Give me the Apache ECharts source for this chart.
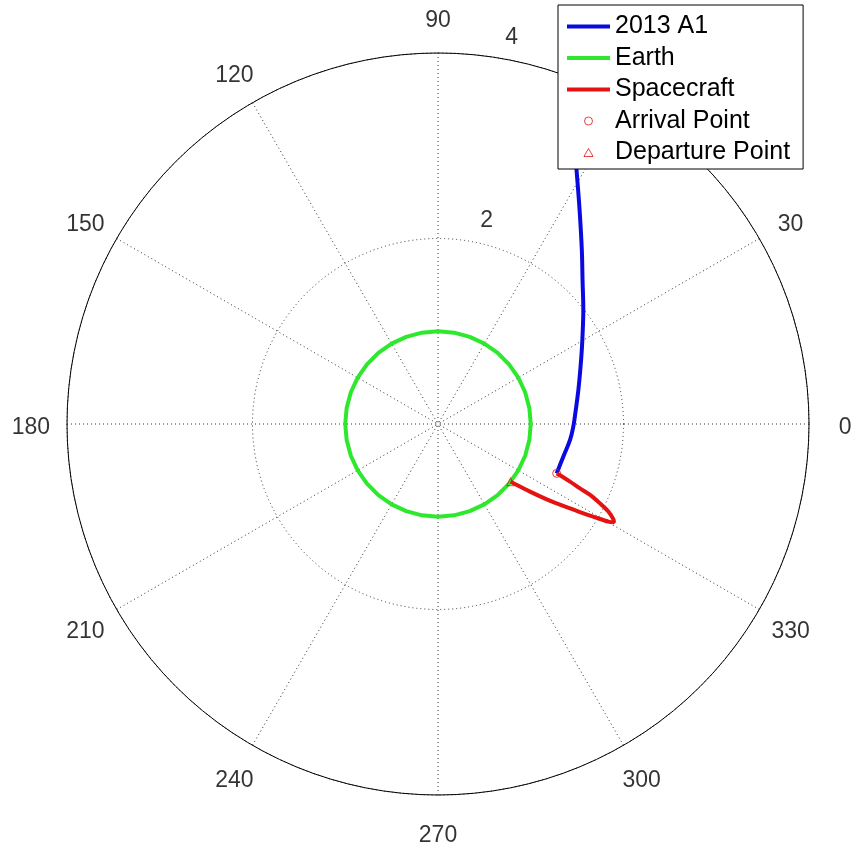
<!DOCTYPE html>
<html>
<head>
<meta charset="utf-8">
<script src="https://cdn.jsdelivr.net/npm/echarts@6/dist/echarts.min.js"></script>
<style>
html,body{margin:0;padding:0;background:#fff;}
#chart{width:852px;height:845px;}
</style>
</head>
<body>
<div id="chart"></div>
<script>
// ---- data (polar: theta in degrees, r in AU) ----
const angleTickValues = [0, 30, 60, 90, 120, 150, 180, 210, 240, 270, 300, 330];
const angleTickLabels = ['0','30','60','90','120','150','180','210','240','270','300','330'];
const radiusTickValues = [2, 4];
const radiusTickLabels = ['2', '4'];

const cometTheta = [68.6, 65.3, 61.4, 56.5, 50.4, 44.9, 38.1, 33.0, 27.2, 20.8, 13.6, 5.8, -1.1, -6.9, -14.6, -22.6];
const cometR     = [3.868, 3.488, 3.12, 2.766, 2.433, 2.2, 1.991, 1.861, 1.743, 1.641, 1.557, 1.493, 1.459, 1.434, 1.396, 1.386];

const earthTheta = [0,10,20,30,40,50,60,70,80,90,100,110,120,130,140,150,160,170,180,
                    190,200,210,220,230,240,250,260,270,280,290,300,310,320,330,340,350,360];
const earthR     = [1,1,1,1,1,1,1,1,1,1,1,1,1,1,1,1,1,1,1,
                    1,1,1,1,1,1,1,1,1,1,1,1,1,1,1,1,1,1];

const craftTheta = [-38.5, -36.3, -34.7, -33.2, -31.8, -30.6, -29.8, -29.2, -28.5, -27.2, -26.1, -25.0, -24.4, -23.6, -22.8, -22.6];
const craftR     = [1.0, 1.231, 1.426, 1.614, 1.801, 1.987, 2.117, 2.174, 2.151, 2.065, 1.945, 1.809, 1.681, 1.553, 1.427, 1.386];

const arrivalPoint = {theta: -22.6, r: 1.386};
const departurePoint = {theta: -38.5, r: 1.0};

const seriesNames = ['2013 A1', 'Earth', 'Spacecraft', 'Arrival Point', 'Departure Point'];

// ---- layout / style ----
const angleLabelRadius = 4.39;
const radiusLabelPlacement = [{r: 2.296, a: 76.8}, {r: 4.28, a: 79.3}];
const FONT = "'Liberation Sans', Arial, Helvetica, sans-serif";
const BLUE = '#0a0ae0', GREEN = '#2ee82e', RED = '#e51212';
const LINE_ICON = 'path://M0,0L43,0L43,4L0,4Z';
const TRI_ICON = 'path://M4,0L8,7L0,7Z';

const pairs = (rs, ts) => rs.map((r, i) => [r, ts[i]]);
const textSeries = (name, points, labels, fontSize) => ({
  name, type: 'scatter', coordinateSystem: 'polar', symbolSize: 1, silent: true, clip: false,
  itemStyle: {color: 'rgba(0,0,0,0)'},
  label: {show: true, position: 'inside', offset: [0, 4], fontSize, color: '#000', fontFamily: FONT,
          formatter: p => labels[p.dataIndex]},
  data: points, z: 2
});

const chart = echarts.init(document.getElementById('chart'), null, {renderer: 'canvas'});
chart.setOption({
  backgroundColor: '#ffffff',
  animation: false,
  textStyle: {fontFamily: FONT},
  polar: {center: [438, 424], radius: 371},
  angleAxis: {
    type: 'value', min: 0, max: 360, interval: 30, startAngle: 0, clockwise: false,
    axisLine: {show: true, lineStyle: {color: '#000', width: 1}},
    axisTick: {show: false},
    axisLabel: {show: false},
    splitLine: {show: true, lineStyle: {color: '#333', width: 1, type: [1, 3]}}
  },
  radiusAxis: {
    type: 'value', min: 0, max: 4, interval: 2,
    axisLine: {show: false}, axisTick: {show: false}, axisLabel: {show: false},
    splitLine: {show: true, lineStyle: {color: '#333', width: 1, type: [1, 3]}}
  },
  legend: {
    orient: 'vertical', left: 558, top: 5,
    itemWidth: 43, itemHeight: 8, itemGap: 6.5,
    padding: [9, 13, 4, 9],
    symbolKeepAspect: true,
    backgroundColor: '#fff', borderColor: '#000', borderWidth: 1,
    selectedMode: false,
    textStyle: {fontSize: 25, color: '#000', fontFamily: FONT, lineHeight: 24},
    data: [
      {name: seriesNames[0], icon: LINE_ICON, itemStyle: {color: BLUE, borderWidth: 0}},
      {name: seriesNames[1], icon: LINE_ICON, itemStyle: {color: GREEN, borderWidth: 0}},
      {name: seriesNames[2], icon: LINE_ICON, itemStyle: {color: RED, borderWidth: 0}},
      {name: seriesNames[3], icon: 'circle', itemStyle: {color: 'rgba(255,255,255,0)', borderColor: RED, borderWidth: 1}},
      {name: seriesNames[4], icon: TRI_ICON, itemStyle: {color: 'rgba(255,255,255,0)', borderColor: RED, borderWidth: 1}}
    ]
  },
  series: [
    {name: seriesNames[0], type: 'line', coordinateSystem: 'polar', symbol: 'none', smooth: 0.4,
     lineStyle: {color: BLUE, width: 4}, itemStyle: {color: BLUE}, data: pairs(cometR, cometTheta), z: 3},
    {name: seriesNames[1], type: 'line', coordinateSystem: 'polar', symbol: 'none',
     lineStyle: {color: GREEN, width: 4}, itemStyle: {color: GREEN}, data: pairs(earthR, earthTheta), z: 3},
    {name: seriesNames[2], type: 'line', coordinateSystem: 'polar', symbol: 'none', smooth: 0.3,
     lineStyle: {color: RED, width: 4}, itemStyle: {color: RED}, data: pairs(craftR, craftTheta), z: 4},
    {name: seriesNames[3], type: 'scatter', coordinateSystem: 'polar', symbol: 'circle', symbolSize: 8,
     itemStyle: {color: 'rgba(255,255,255,0)', borderColor: RED, borderWidth: 1},
     data: [[arrivalPoint.r, arrivalPoint.theta]], z: 5},
    {name: seriesNames[4], type: 'scatter', coordinateSystem: 'polar', symbol: 'triangle', symbolSize: 8,
     itemStyle: {color: 'rgba(255,255,255,0)', borderColor: RED, borderWidth: 1},
     data: [[departurePoint.r, departurePoint.theta]], z: 5},
    textSeries('rlabels',
      radiusTickValues.map((v, i) => [radiusLabelPlacement[i].r, radiusLabelPlacement[i].a]),
      radiusTickLabels, 23),
    textSeries('alabels',
      angleTickValues.map(a => [angleLabelRadius, a]),
      angleTickLabels, 23)
  ]
});
</script>
</body>
</html>
